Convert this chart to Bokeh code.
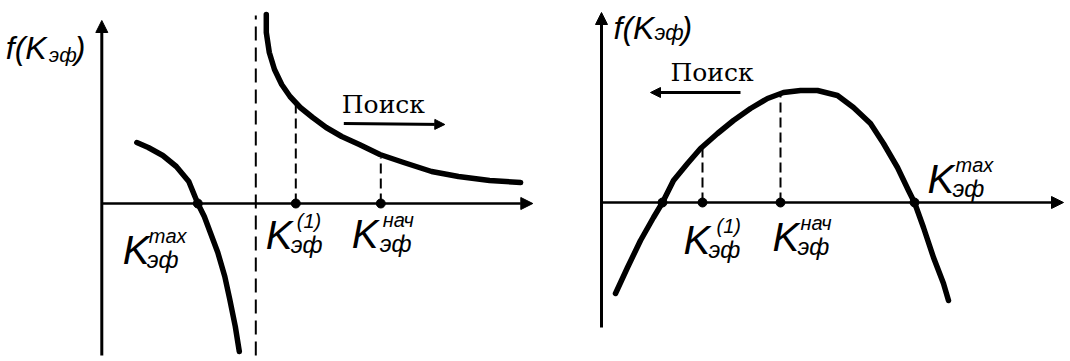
from bokeh.plotting import figure
from bokeh.layouts import row
from bokeh.models import Range1d, Arrow, NormalHead
from bokeh.core.properties import value
from bokeh.embed import file_html
from bokeh.resources import INLINE

# ---- left panel: f(K) with a pole ----
left_branch_k = [3.5, 4.65, 6.1, 7.45, 8.7, 9.6, 10.25, 10.85, 11.6, 12.3, 12.8, 13.35, 13.75]
left_branch_f = [6.1, 5.6, 4.8, 3.7, 2.2, 0.0, -1.3, -2.9, -4.9, -7.3, -9.6, -12.3, -14.8]
right_branch_k = [16.45, 16.45, 16.75, 17.27, 17.99, 18.82, 19.85, 21.09, 22.44, 23.99,
                  25.75, 27.81, 30.19, 32.98, 35.67, 38.78, 41.88]
right_branch_f = [18.9, 17.1, 15.1, 13.4, 11.9, 10.7, 9.6, 8.6, 7.6, 6.7,
                  5.9, 4.9, 4.1, 3.2, 2.7, 2.3, 2.1]
pole_k = 15.4
left_root_k = [9.6]
left_marks_k = [19.4, 27.9]          # K^(1), K^нач
left_marks_f = [9.9, 4.6]

# ---- right panel: single-humped f(K) ----
arch_k = [1.4, 2.6, 3.9, 5.2, 6.1, 7.2, 8.6, 9.9, 11.6, 13.2, 14.9, 16.6, 18.2, 19.9,
          21.6, 23.6, 25.2, 26.9, 28.2, 29.6, 30.7, 31.3, 32.2, 33.2, 34.2, 34.7]
arch_f = [-9.1, -6.5, -3.8, -1.5, 0.0, 2.2, 3.9, 5.4, 6.9, 8.2, 9.4, 10.4, 11.0, 11.2,
          11.2, 10.7, 9.5, 7.9, 5.9, 3.5, 1.2, 0.0, -2.5, -5.5, -8.1, -9.8]
arch_roots_k = [6.1, 31.3]
right_marks_k = [10.1, 17.9]         # K^(1), K^нач
right_marks_f = [5.6, 11.0]

MATH_FONT = value("Liberation Sans")
WORD_FONT = value("DejaVu Serif")


def panel(xr, yr):
    p = figure(width=535, height=361, x_range=Range1d(*xr), y_range=Range1d(*yr),
               output_backend="svg", toolbar_location=None, min_border=0,
               x_axis_type=None, y_axis_type=None)
    p.grid.visible = False
    p.outline_line_color = None
    p.background_fill_color = "white"
    p.border_fill_color = "white"
    return p


def arrow(p, x0, y0, x1, y1, w=3, size=12):
    p.add_layout(Arrow(end=NormalHead(size=size, fill_color="black", line_color="black"),
                       x_start=x0, y_start=y0, x_end=x1, y_end=y1,
                       line_width=w, line_color="black"))


def txt(p, x, y, s, size, font=MATH_FONT, style="italic"):
    p.text(x=[x], y=[y], text=[s], text_font=font, text_font_style=style,
           text_font_size=size, text_baseline="middle", text_align="left",
           text_color="black")


def k_label(p, x, y, sup, sup_dx, sub_dx):
    txt(p, x, y, "K", "40px")
    txt(p, x + sup_dx, y + 1.35, sup, "20px")
    txt(p, x + sub_dx, y - 1.0, "эф", "24px")


def curve(p, xs, ys):
    p.line(x=xs, y=ys, line_width=5.5, color="black", line_join="round", line_cap="round")


# ---------------- left figure ----------------
p1 = panel((-10.13, 43.37), (-15.8, 20.3))
arrow(p1, 0, -15.2, 0, 18.3)
arrow(p1, 0, 0, 43.1, 0, w=2.5)
p1.line(x=[pole_k, pole_k], y=[-15.2, 18.8], line_dash="14 7", line_width=2, color="black")
curve(p1, left_branch_k, left_branch_f)
curve(p1, right_branch_k, right_branch_f)
p1.segment(x0=left_marks_k, y0=[0] * 2, x1=left_marks_k, y1=left_marks_f,
           line_dash="10 5", line_width=2, color="black")
p1.scatter(x=left_marks_k + left_root_k, y=[0] * 3, size=9, color="black")

txt(p1, -9.6, 15.6, "f(K", "32px")
txt(p1, -5.3, 14.9, "эф", "21px")
txt(p1, -2.7, 15.6, ")", "32px")
k_label(p1, 2.1, -4.6, "max", 2.6, 2.4)
k_label(p1, 16.4, -3.1, "(1)", 3.1, 2.5)
k_label(p1, 25.0, -3.0, "нач", 3.1, 2.8)
txt(p1, 24.0, 9.9, "Поиск", "25px", font=WORD_FONT, style="normal")
arrow(p1, 24.2, 8.0, 34.3, 7.9, w=3, size=10)

# ---------------- right figure ----------------
p2 = panel((-6.6, 46.9), (-15.9, 20.2))
arrow(p2, 0, -12.5, 0, 19.0)
arrow(p2, 0, 0, 46.2, 0, w=2.5)
curve(p2, arch_k, arch_f)
p2.segment(x0=right_marks_k, y0=[0] * 2, x1=right_marks_k, y1=right_marks_f,
           line_dash="10 5", line_width=2, color="black")
p2.scatter(x=right_marks_k + arch_roots_k, y=[0] * 4, size=9, color="black")

txt(p2, 1.2, 17.5, "f(K", "32px")
txt(p2, 5.3, 17.0, "эф", "22px")
txt(p2, 8.0, 17.5, ")", "32px")
k_label(p2, 8.2, -3.7, "(1)", 3.3, 2.5)
k_label(p2, 17.1, -3.4, "нач", 2.8, 2.5)
k_label(p2, 32.6, 2.4, "max", 2.8, 2.5)
txt(p2, 6.9, 13.0, "Поиск", "25px", font=WORD_FONT, style="normal")
arrow(p2, 13.9, 11.0, 4.9, 11.0, w=3, size=10)

layout = row(p1, p2)
open("out.html", "w").write(file_html(layout, INLINE))
